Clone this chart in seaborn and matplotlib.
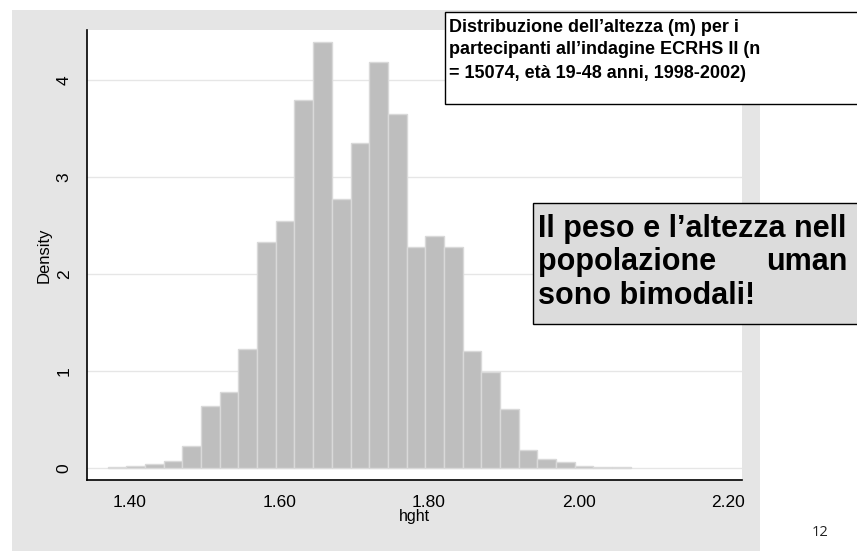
import matplotlib
matplotlib.use("Agg")
import matplotlib.pyplot as plt
from matplotlib.patches import Rectangle
import numpy as np
import seaborn as sns

# histogram: bins of 0.025 m starting at 1.37
bin_edges = [round(1.37 + 0.025 * k, 3) for k in range(29)]
density = [0.005, 0.02, 0.04, 0.07, 0.23, 0.64, 0.78, 1.23, 2.33, 2.55,
           3.79, 4.39, 2.77, 3.35, 4.18, 3.65, 2.28, 2.39, 2.28, 1.21,
           0.99, 0.61, 0.19, 0.09, 0.065, 0.02, 0.015, 0.005]
x_ticks = [1.40, 1.60, 1.80, 2.00, 2.20]
x_labels = ["1.40", "1.60", "1.80", "2.00", "2.20"]
y_ticks = [0, 1, 2, 3, 4]

centers = [(bin_edges[i] + bin_edges[i + 1]) / 2 for i in range(len(density))]

sns.set_style("white")
plt.rcParams["font.family"] = ["Liberation Sans", "DejaVu Sans"]
plt.rcParams["text.color"] = "black"
plt.rcParams["axes.labelcolor"] = "black"

W, H = 857, 551
fig = plt.figure(figsize=(W / 100, H / 100), dpi=100)
fig.patch.set_facecolor("white")

def fx(px):
    return px / W

def fy(py):
    return 1 - py / H

# grey graph region, behind the axes
fig.patches.append(Rectangle((fx(12), 0), fx(760) - fx(12), fy(10), transform=fig.transFigure,
                             facecolor="#E5E5E5", edgecolor="none", zorder=-10))

ax = fig.add_axes([fx(87), fy(480), fx(742) - fx(87), fy(30) - fy(480)])
ax.set_facecolor("white")

sns.histplot(x=centers, weights=density, bins=bin_edges, stat="count",
             color="#BEBEBE", edgecolor="#D9D9D9", linewidth=1, alpha=1, ax=ax)

ax.set_xlim(1.3425, 2.2187)
ax.set_ylim(-0.124, 4.515)
ax.set_xticks(x_ticks)
ax.set_xticklabels(x_labels)
ax.set_yticks(y_ticks)
ax.set_yticklabels([str(t) for t in y_ticks], rotation=90, va="center")
ax.tick_params(axis="both", direction="out", length=5, width=1, color="black",
               labelsize=12.5, labelcolor="black", pad=6)
ax.yaxis.grid(True, color="#E6E6E6", linewidth=1)
ax.set_axisbelow(True)
for s in ["top", "right"]:
    ax.spines[s].set_visible(False)
for s in ["left", "bottom"]:
    ax.spines[s].set_color("black")
    ax.spines[s].set_linewidth(1.2)

ax.set_xlabel("hght", fontsize=11.5, labelpad=-1)
ax.set_ylabel("Density", fontsize=12, labelpad=4)

# top caption box
fig.patches.append(Rectangle((fx(445), fy(104)), fx(920) - fx(445), fy(12) - fy(104),
                             transform=fig.transFigure, facecolor="white",
                             edgecolor="black", linewidth=1, zorder=5))
cap = ["Distribuzione dell\u2019altezza (m) per i",
       "partecipanti all\u2019indagine ECRHS II (n",
       "= 15074, et\u00e0 19-48 anni, 1998-2002)"]
for i, line in enumerate(cap):
    fig.text(fx(449), fy(27 + 23 * i), line, fontsize=13, fontweight="bold",
             va="center", ha="left", zorder=6)

# grey message box (its right part runs off the slide, as in the original)
fig.patches.append(Rectangle((fx(533), fy(324)), fx(920) - fx(533), fy(203) - fy(324),
                             transform=fig.transFigure, facecolor="#DCDCDC",
                             edgecolor="black", linewidth=1, zorder=5))
big = dict(fontsize=22, fontweight="bold", va="center", ha="left", zorder=6)
fig.text(fx(538), fy(229), "Il peso e l\u2019altezza nell", **big)
fig.text(fx(538), fy(262), "popolazione", **big)
fig.text(fx(766), fy(262), "uman", **big)
fig.text(fx(538), fy(296), "sono bimodali!", **big)

fig.text(fx(820), fy(533), "12", fontsize=10.5, family=["Open Sans", "DejaVu Sans"],
         color="#222222", ha="center", va="center")

fig.savefig("out.png", dpi=100)
